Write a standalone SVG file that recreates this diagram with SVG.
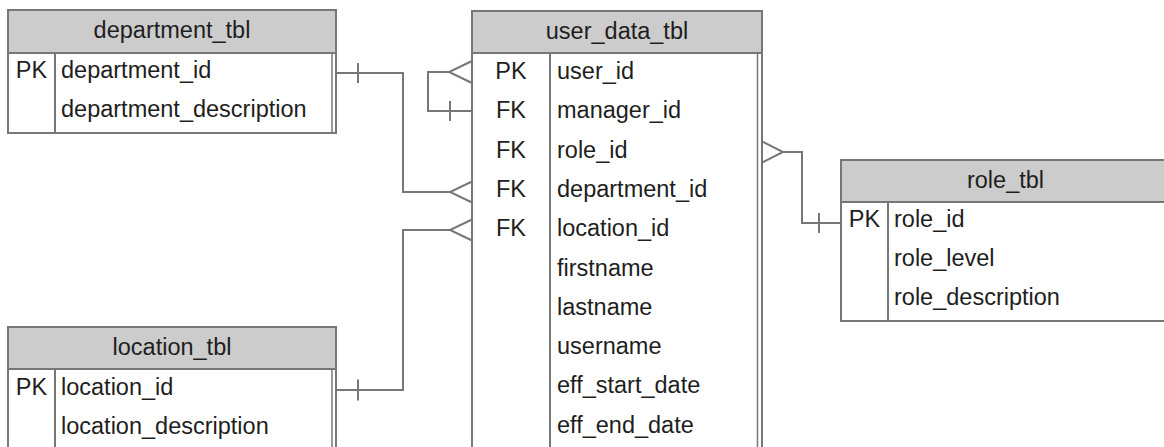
<svg xmlns="http://www.w3.org/2000/svg" width="1164" height="447" viewBox="0 0 1164 447">
  <style>
    .frame { fill: #ffffff; stroke: #777777; stroke-width: 2; }
    .head { fill: #cccccc; stroke: #777777; stroke-width: 2; }
    .rule { stroke: #777777; stroke-width: 2; fill: none; }
    .inner { stroke: #777777; stroke-width: 1.5; fill: none; }
    .title { font-family: "Liberation Sans", Arial, sans-serif; font-size: 23.5px; fill: #1e1e1e; text-anchor: middle; }
    .key { font-family: "Liberation Sans", Arial, sans-serif; font-size: 23.5px; fill: #1e1e1e; text-anchor: middle; }
    .field { font-family: "Liberation Sans", Arial, sans-serif; font-size: 23.5px; fill: #1e1e1e; }
    .link { stroke: #777777; stroke-width: 2; fill: none; stroke-linejoin: miter; }
  </style>

  <!-- department_tbl -->
  <g id="department_tbl">
    <rect class="frame" x="8" y="10" width="328" height="123"/>
    <rect class="head" x="8" y="10" width="328" height="43"/>
    <line class="rule" x1="55" y1="53" x2="55" y2="133"/>
    <line class="inner" x1="332" y1="53" x2="332" y2="133"/>
    <text class="title" x="172" y="38">department_tbl</text>
    <text class="key" x="31.5" y="78.3">PK</text>
    <text class="field" x="61" y="78.3">department_id</text>
    <text class="field" x="61" y="117.3">department_description</text>
  </g>

  <!-- location_tbl (continues below the visible area) -->
  <g id="location_tbl">
    <rect class="frame" x="8" y="327" width="328" height="140"/>
    <rect class="head" x="8" y="327" width="328" height="42"/>
    <line class="rule" x1="55" y1="369" x2="55" y2="467"/>
    <line class="inner" x1="332" y1="369" x2="332" y2="467"/>
    <text class="title" x="172" y="354.5">location_tbl</text>
    <text class="key" x="31.5" y="394.5">PK</text>
    <text class="field" x="61" y="394.5">location_id</text>
    <text class="field" x="61" y="433.5">location_description</text>
  </g>

  <!-- user_data_tbl (continues below the visible area) -->
  <g id="user_data_tbl">
    <rect class="frame" x="472" y="11" width="290" height="456"/>
    <rect class="head" x="472" y="11" width="290" height="42"/>
    <line class="rule" x1="550" y1="53" x2="550" y2="467"/>
    <line class="inner" x1="757.5" y1="53" x2="757.5" y2="467"/>
    <text class="title" x="617" y="38.5">user_data_tbl</text>
    <text class="key" x="511" y="79">PK</text>
    <text class="key" x="511" y="118.3">FK</text>
    <text class="key" x="511" y="157.6">FK</text>
    <text class="key" x="511" y="196.9">FK</text>
    <text class="key" x="511" y="236.2">FK</text>
    <text class="field" x="557" y="79">user_id</text>
    <text class="field" x="557" y="118.3">manager_id</text>
    <text class="field" x="557" y="157.6">role_id</text>
    <text class="field" x="557" y="196.9">department_id</text>
    <text class="field" x="557" y="236.2">location_id</text>
    <text class="field" x="557" y="275.5">firstname</text>
    <text class="field" x="557" y="314.8">lastname</text>
    <text class="field" x="557" y="354.1">username</text>
    <text class="field" x="557" y="393.4">eff_start_date</text>
    <text class="field" x="557" y="432.7">eff_end_date</text>
  </g>

  <!-- role_tbl (extends past the right edge) -->
  <g id="role_tbl">
    <rect class="frame" x="841" y="160" width="329" height="161"/>
    <rect class="head" x="841" y="160" width="329" height="42"/>
    <line class="rule" x1="888" y1="202" x2="888" y2="321"/>
    <text class="title" x="1005.5" y="187.5">role_tbl</text>
    <text class="key" x="864.5" y="227.3">PK</text>
    <text class="field" x="894" y="227.3">role_id</text>
    <text class="field" x="894" y="266.3">role_level</text>
    <text class="field" x="894" y="305.3">role_description</text>
  </g>

  <!-- relationships -->
  <g id="connectors">
    <!-- manager_id -> user_id (self reference) -->
    <path class="link" d="M472 111 H428 V72 H449"/>
    <path class="link" d="M472 61 L449 72 L472 83"/>
    <line class="link" x1="450" y1="101" x2="450" y2="121"/>

    <!-- department_tbl -> user_data_tbl.department_id -->
    <path class="link" d="M336 73 H403 V192 H450"/>
    <path class="link" d="M472 181.5 L450 192 L472 202.5"/>
    <line class="link" x1="358" y1="63" x2="358" y2="83"/>

    <!-- location_tbl -> user_data_tbl.location_id -->
    <path class="link" d="M336 390 H403 V230 H450"/>
    <path class="link" d="M472 219.5 L450 230 L472 240.5"/>
    <line class="link" x1="358" y1="379.5" x2="358" y2="400.5"/>

    <!-- role_tbl -> user_data_tbl.role_id -->
    <path class="link" d="M783 152 H802 V223 H841"/>
    <path class="link" d="M762 141.5 L783 152 L762 162.5"/>
    <line class="link" x1="819" y1="213" x2="819" y2="233"/>
  </g>
</svg>
